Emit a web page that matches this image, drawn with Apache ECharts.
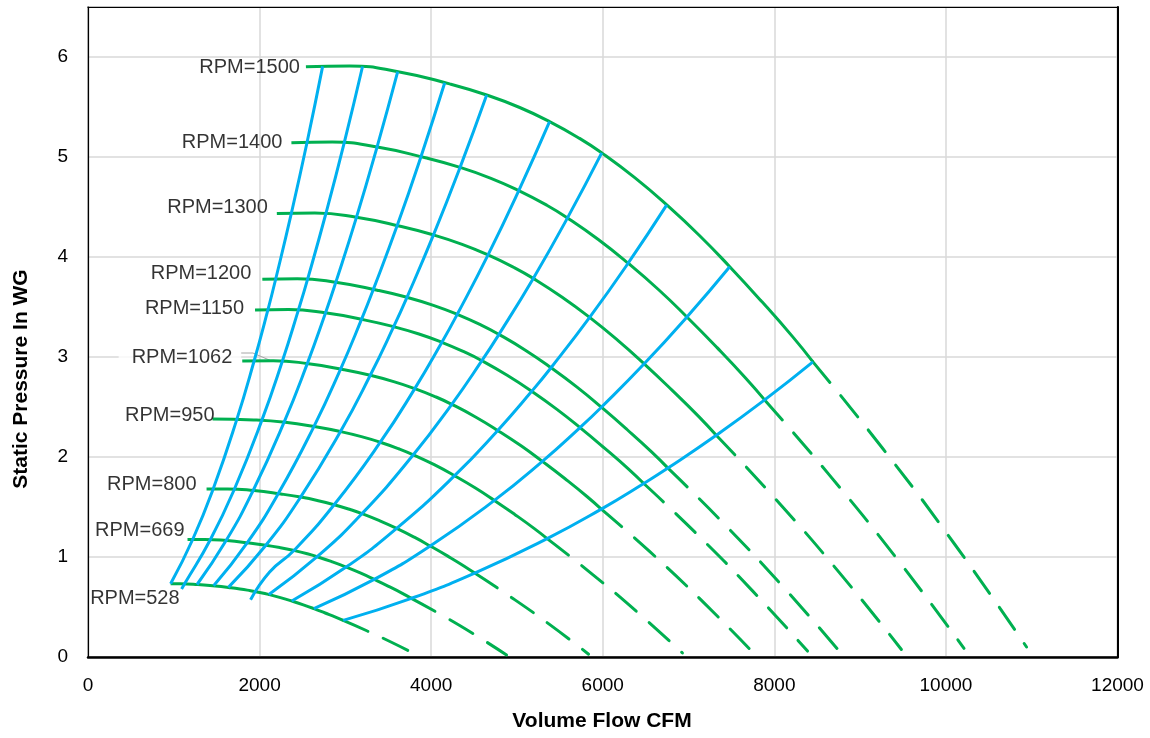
<!DOCTYPE html>
<html><head><meta charset="utf-8">
<script src="https://cdn.jsdelivr.net/npm/echarts@6/dist/echarts.min.js"></script>
<style>html,body{margin:0;padding:0;background:#fff}#c{width:1150px;height:738px}</style>
</head><body><div id="c"></div>
<script>
// ---- data ----
const rpmLabels = ['RPM=1500','RPM=1400','RPM=1300','RPM=1200','RPM=1150','RPM=1062','RPM=950','RPM=800','RPM=669','RPM=528'];

const rpm1500 = [[2540,5.903],[3050,5.911],[3630,5.851],[4215,5.731],[4647,5.620],[5032,5.495],[5380,5.354],[5730,5.186],[5988,5.041],[6373,4.793],[6746,4.521],[7130,4.213],[7480,3.903],[7854,3.554],[8215,3.201],[8450,2.951]];
const rpm1400 = [[2371,5.142],[2847,5.149],[3388,5.097],[3934,4.992],[4337,4.896],[4697,4.787],[5021,4.664],[5348,4.518],[5589,4.391],[5948,4.175],[6296,3.938],[6655,3.670],[6981,3.400],[7330,3.096],[7667,2.788],[7887,2.571]];
const rpm1300 = [[2201,4.434],[2643,4.440],[3146,4.395],[3653,4.305],[4027,4.221],[4361,4.127],[4663,4.021],[4966,3.895],[5190,3.786],[5523,3.600],[5847,3.396],[6179,3.164],[6483,2.932],[6807,2.669],[7120,2.404],[7323,2.217]];
const rpm1200 = [[2032,3.778],[2440,3.783],[2904,3.745],[3372,3.668],[3718,3.597],[4026,3.517],[4304,3.427],[4584,3.319],[4790,3.226],[5098,3.068],[5397,2.893],[5704,2.696],[5984,2.498],[6283,2.275],[6572,2.049],[6760,1.889]];
const rpm1150 = [[1947,3.470],[2338,3.474],[2783,3.439],[3232,3.369],[3563,3.303],[3858,3.230],[4125,3.147],[4393,3.048],[4591,2.963],[4886,2.817],[5172,2.657],[5466,2.476],[5735,2.294],[6021,2.089],[6298,1.882],[6478,1.735]];
const rpm1062 = [[1798,2.959],[2159,2.963],[2570,2.933],[2984,2.873],[3290,2.817],[3563,2.754],[3809,2.684],[4057,2.600],[4240,2.527],[4512,2.403],[4776,2.266],[5048,2.112],[5296,1.956],[5561,1.782],[5816,1.605],[5983,1.479]];
const rpm950  = [[1452,2.380],[1932,2.371],[2299,2.347],[2670,2.299],[2943,2.254],[3187,2.204],[3407,2.148],[3629,2.080],[3792,2.022],[4036,1.923],[4273,1.813],[4516,1.690],[4737,1.566],[4974,1.426],[5203,1.284],[5352,1.184]];
const rpm800  = [[1382,1.679],[1627,1.681],[1936,1.664],[2248,1.630],[2478,1.599],[2684,1.563],[2869,1.523],[3056,1.475],[3194,1.434],[3399,1.363],[3598,1.286],[3803,1.198],[3989,1.110],[4189,1.011],[4381,0.911],[4507,0.839]];
const rpm669  = [[1160,1.174],[1360,1.176],[1619,1.164],[1880,1.140],[2073,1.118],[2244,1.093],[2400,1.065],[2556,1.032],[2671,1.003],[2842,0.953],[3009,0.899],[3180,0.838],[3336,0.776],[3503,0.707],[3664,0.637],[3769,0.587]];
const rpm528  = [[963,0.732],[1074,0.732],[1278,0.725],[1484,0.710],[1636,0.696],[1771,0.681],[1894,0.663],[2017,0.643],[2108,0.625],[2243,0.594],[2375,0.560],[2510,0.522],[2633,0.484],[2765,0.440],[2892,0.397],[2974,0.366]];

const rpm1500Dash = [[8450,2.951],[9250,2.100],[10100,1.130],[10940,0.100]];
const rpm1400Dash = [[7887,2.571],[8633,1.829],[9427,0.984],[10211,0.087]];
const rpm1300Dash = [[7323,2.217],[8017,1.577],[8753,0.849],[9481,0.075]];
const rpm1200Dash = [[6760,1.889],[7400,1.344],[8080,0.723],[8752,0.064]];
const rpm1150Dash = [[6478,1.735],[7092,1.234],[7743,0.664],[8387,0.059]];
const rpm1062Dash = [[5983,1.479],[6549,1.053],[7151,0.566],[7746,0.050]];
const rpm950Dash  = [[5352,1.184],[5858,0.842],[6397,0.453],[6929,0.040]];
const rpm800Dash  = [[4507,0.839],[4933,0.597],[5387,0.321],[5835,0.028]];
const rpm669Dash  = [[3769,0.587],[4126,0.418],[4505,0.225],[4879,0.020]];
const rpm528Dash  = [[2974,0.366],[3256,0.260],[3555,0.140],[3851,0.012]];

const sys1  = [[963,0.732],[1220,1.175],[1459,1.680],[1732,2.369],[1936,2.960],[2097,3.471],[2188,3.780],[2370,4.436],[2553,5.145],[2735,5.906]];
const sys2  = [[1091,0.680],[1126,0.732],[1427,1.175],[1707,1.680],[2027,2.369],[2266,2.960],[2453,3.471],[2560,3.779],[2773,4.435],[2987,5.144],[3200,5.905]];
const sys3  = [[1271,0.725],[1610,1.164],[1925,1.665],[2286,2.348],[2556,2.934],[2768,3.440],[2888,3.746],[3129,4.396],[3369,5.099],[3610,5.853]];
const sys4  = [[1464,0.712],[1855,1.142],[2218,1.634],[2633,2.304],[2944,2.879],[3188,3.376],[3326,3.676],[3604,4.314],[3881,5.003],[4158,5.743]];
const sys5  = [[1636,0.696],[2073,1.118],[2478,1.599],[2943,2.254],[3290,2.817],[3563,3.303],[3718,3.597],[4027,4.221],[4337,4.896],[4647,5.620]];
const sys6  = [[1895,0.573],[2117,0.850],[2400,1.065],[2869,1.523],[3407,2.148],[3809,2.684],[4125,3.147],[4304,3.427],[4663,4.021],[5021,4.664],[5380,5.354]];
const sys7  = [[2108,0.625],[2671,1.003],[3194,1.434],[3792,2.022],[4240,2.527],[4591,2.963],[4790,3.226],[5190,3.786],[5589,4.391],[5988,5.041]];
const sys8  = [[2375,0.560],[3009,0.899],[3598,1.286],[4273,1.813],[4776,2.266],[5172,2.657],[5397,2.893],[5847,3.396],[6296,3.938],[6746,4.521]];
const sys9  = [[2633,0.484],[3336,0.776],[3989,1.110],[4737,1.566],[5296,1.956],[5735,2.294],[5984,2.498],[6483,2.932],[6981,3.400],[7480,3.903]];
const sys10 = [[2974,0.366],[3769,0.587],[4507,0.839],[5352,1.184],[5983,1.479],[6478,1.735],[6760,1.889],[7323,2.217],[7887,2.571],[8450,2.951]];

const leader1062 = [[1782,3.04],[1922,3.04],[2140,2.96]];

const xAxisTitle = 'Volume Flow CFM';
const yAxisTitle = 'Static Pressure In WG';

// ---- styling / build ----
const FONT = "'Liberation Sans',Arial,sans-serif";
const GREEN = '#00B050', BLUE = '#00B0F0';
const solidCurves = [rpm1500,rpm1400,rpm1300,rpm1200,rpm1150,rpm1062,rpm950,rpm800,rpm669,rpm528];
const dashCurves = [rpm1500Dash,rpm1400Dash,rpm1300Dash,rpm1200Dash,rpm1150Dash,rpm1062Dash,rpm950Dash,rpm800Dash,rpm669Dash,rpm528Dash];
const sysCurves = [sys1,sys2,sys3,sys4,sys5,sys6,sys7,sys8,sys9,sys10];
const labelOffsets = [[-6,1],[-9,0],[-9,-6],[-11,-6],[-11,-2],[-1,-4],[2,-4],[-10,-5],[-3,-9],[9,15]];

const series = [];
solidCurves.forEach(d=>{
  series.push({type:'line', data:d, smooth:0.5, showSymbol:false, silent:true, z:2,
    lineStyle:{color:GREEN, width:3}});
});
dashCurves.forEach(d=>{
  series.push({type:'line', data:d, smooth:0.5, showSymbol:false, silent:true, z:2,
    lineStyle:{color:GREEN, width:3, type:[27,17], cap:'round'}});
});
sysCurves.forEach(d=>{
  series.push({type:'line', data:d, smooth:0.5, showSymbol:false, silent:true, z:3,
    lineStyle:{color:BLUE, width:3}});
});
series.push({type:'line', data:leader1062, showSymbol:false, silent:true, z:1,
  lineStyle:{color:'#a6a6a6', width:1}});
series.push({type:'scatter', symbolSize:0, silent:true, z:5,
  data: solidCurves.map((c,i)=>{
    const lab = {offset:labelOffsets[i], formatter:rpmLabels[i]};
    if (i===5) { lab.backgroundColor = '#fff'; lab.padding = [1,9,1,13]; }
    return {value:c[0], label:lab};
  }),
  label:{show:true, position:'left', distance:0, fontSize:20, fontFamily:FONT, color:'#000'}
});

const frameAxis = {show:true, axisLine:{show:true, lineStyle:{color:'#000', width:1.5}},
  axisTick:{show:false}, axisLabel:{show:false}, splitLine:{show:false}};

const chart = echarts.init(document.getElementById('c'), null, {renderer:'canvas'});
chart.setOption({
  animation:false,
  backgroundColor:'#fff',
  grid:{left:88, right:32.5, top:7, bottom:81, show:true, borderColor:'#000', borderWidth:1.2, backgroundColor:'transparent'},
  xAxis:[{type:'value', min:0, max:12000, interval:2000,
    axisLine:{show:true, onZero:false, lineStyle:{color:'#000', width:2.5}},
    axisTick:{show:false},
    axisLabel:{fontSize:19, fontFamily:FONT, color:'#000', margin:19, formatter:v=>String(v)},
    splitLine:{show:true, lineStyle:{color:'#d9d9d9', width:1.5}}},
    Object.assign({type:'value', position:'top', min:0, max:12000, interval:2000}, frameAxis,
      {axisLine:{show:true, onZero:false, lineStyle:{color:'#000', width:1.2}}})],
  yAxis:[{type:'value', min:0, max:6.5, interval:1,
    axisLine:{show:true, lineStyle:{color:'#000', width:1.2}},
    axisTick:{show:false},
    axisLabel:{fontSize:19, fontFamily:FONT, color:'#000', margin:20,
      formatter:v=> Number.isInteger(v) ? String(v) : ''},
    splitLine:{show:true, lineStyle:{color:'#d9d9d9', width:1.5}}},
    Object.assign({type:'value', position:'right', min:0, max:6.5, interval:1}, frameAxis,
      {axisLine:{show:true, onZero:false, lineStyle:{color:'#000', width:2}}})],
  graphic:[
    {type:'text', x:602, y:721, silent:true,
      style:{text:xAxisTitle, align:'center', verticalAlign:'middle', font:"bold 21px "+FONT, fill:'#000'}},
    {type:'text', x:21, y:379, rotation:Math.PI/2, silent:true,
      style:{text:yAxisTitle, align:'center', verticalAlign:'middle', font:"bold 21px "+FONT, fill:'#000'}}
  ],
  series:series
});
</script></body></html>
